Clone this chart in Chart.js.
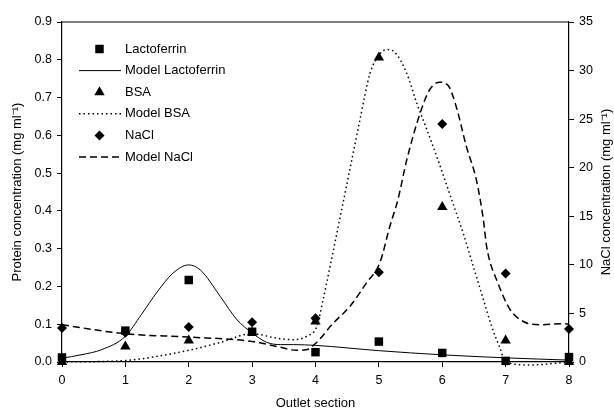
<!DOCTYPE html>
<html>
<head>
<meta charset="utf-8">
<script src="https://cdn.jsdelivr.net/npm/chart.js@4/dist/chart.umd.min.js"></script>
<style>
  html, body { margin: 0; padding: 0; background: #fff; }
  #wrap { width: 614px; height: 411px; }
</style>
</head>
<body>
<div id="wrap"><canvas id="myChart" width="614" height="411"></canvas></div>
<script>
// measured values, one per outlet section
var sections = [0, 1, 2, 3, 4, 5, 6, 7, 8];
var lactoferrin = [0.012, 0.083, 0.217, 0.080, 0.026, 0.054, 0.024, 0.003, 0.013];
var bsa = [0.0, 0.041, 0.057, 0.078, 0.107, 0.806, 0.410, 0.057, 0.0];
var nacl = [3.5, 3.0, 3.6, 4.1, 4.5, 9.25, 24.5, 9.1, 3.4];   // right axis

// model curves
var modelLfX = [0, 0.3, 0.63, 1, 1.25, 1.5, 1.75, 2, 2.18, 2.5, 2.76, 3, 3.23, 3.45, 3.65, 4, 5, 6, 7, 8];
var modelLfY = [0.010, 0.019, 0.033, 0.068, 0.125, 0.185, 0.235, 0.257, 0.244, 0.173, 0.112, 0.077, 0.052, 0.046, 0.046, 0.044, 0.030, 0.019, 0.011, 0.005];

var modelBsaX = [0, 1, 2, 2.5, 3, 3.39, 3.65, 3.86, 4.02, 4.12, 4.23, 4.38, 4.54, 4.7, 4.86, 5.02, 5.12, 5.25, 5.44, 5.6, 5.76, 5.97, 6.15, 6.33, 6.49, 6.65, 6.78, 6.91, 7.0, 7.4, 7.8, 8];
var modelBsaY = [0.0, 0.004, 0.031, 0.052, 0.075, 0.063, 0.059, 0.068, 0.094, 0.165, 0.253, 0.376, 0.508, 0.640, 0.764, 0.816, 0.827, 0.820, 0.764, 0.684, 0.614, 0.517, 0.429, 0.341, 0.253, 0.165, 0.094, 0.037, 0.0, -0.008, -0.003, 0.0];

var modelNaclX = [0, 1, 2, 3, 3.39, 3.7, 3.85, 4.0, 4.28, 4.54, 4.8, 5.02, 5.17, 5.3, 5.44, 5.65, 5.8, 5.96, 6.09, 6.22, 6.38, 6.54, 6.65, 6.7, 6.88, 7.07, 7.28, 7.54, 7.9, 8];
var modelNaclY = [3.83, 2.9, 2.57, 2.12, 1.6, 1.2, 1.25, 1.9, 4.0, 5.7, 8.1, 10.3, 13.9, 16.7, 20.8, 25.6, 28.0, 28.8, 28.5, 26.3, 22.2, 18.7, 14.6, 11.9, 8.1, 5.4, 4.17, 3.83, 3.94, 3.9];

function pts(xs, ys) {
  return xs.map(function (x, i) { return { x: x, y: ys[i] }; });
}

Chart.defaults.font.family = "'Liberation Sans', Arial, sans-serif";
Chart.defaults.color = '#000';

// legend drawn inside the plot, top left, like the original
var insideLegend = {
  id: 'insideLegend',
  afterDatasetsDraw: function (chart) {
    var ctx = chart.ctx;
    var top = 49, step = 21.6;
    ctx.save();
    ctx.font = "13px 'Liberation Sans', Arial, sans-serif";
    ctx.textBaseline = 'middle';
    chart.data.datasets.forEach(function (ds, i) {
      var y = top + i * step;
      ctx.fillStyle = '#000';
      ctx.strokeStyle = '#000';
      if (ds.showLine) {
        ctx.lineWidth = ds.borderWidth;
        ctx.setLineDash(ds.borderDash || []);
        ctx.beginPath();
        ctx.moveTo(79, y);
        ctx.lineTo(121, y);
        ctx.stroke();
        ctx.setLineDash([]);
      } else {
        ctx.beginPath();
        var cx = 99.5, r = ds.pointRadius;
        if (ds.pointStyle === 'rect') {
          var s = r * Math.SQRT1_2;
          ctx.rect(cx - s, y - s, 2 * s, 2 * s);
        } else if (ds.pointStyle === 'triangle') {
          ctx.moveTo(cx, y - r);
          ctx.lineTo(cx + r * 0.866, y + r * 0.5);
          ctx.lineTo(cx - r * 0.866, y + r * 0.5);
          ctx.closePath();
        } else {
          ctx.moveTo(cx, y - r);
          ctx.lineTo(cx + r, y);
          ctx.lineTo(cx, y + r);
          ctx.lineTo(cx - r, y);
          ctx.closePath();
        }
        ctx.fill();
      }
      ctx.fillText(ds.label, 125, y);
    });
    ctx.restore();
  }
};

// top frame line and the right axis title (reads bottom to top)
var frame = {
  id: 'frame',
  afterDraw: function (chart) {
    var ctx = chart.ctx, a = chart.chartArea;
    ctx.save();
    ctx.strokeStyle = '#000';
    ctx.lineWidth = 1.2;
    ctx.beginPath();
    ctx.moveTo(a.left, a.top);
    ctx.lineTo(a.right, a.top);
    ctx.stroke();
    ctx.translate(606, (a.top + a.bottom) / 2);
    ctx.rotate(-Math.PI / 2);
    ctx.font = "13px 'Liberation Sans', Arial, sans-serif";
    ctx.textAlign = 'center';
    ctx.textBaseline = 'middle';
    ctx.fillStyle = '#000';
    ctx.fillText('NaCl concentration (mg ml\u207B\u00B9)', 0, 0);
    ctx.restore();
  }
};

var ctx = document.getElementById('myChart').getContext('2d');

var myChart = new Chart(ctx, {
  type: 'scatter',
  data: {
    datasets: [{
      label: 'Lactoferrin',
      data: pts(sections, lactoferrin),
      pointStyle: 'rect',
      pointRadius: 6,
      backgroundColor: '#000',
      borderColor: '#000',
      borderWidth: 0,
      showLine: false,
      clip: false,
      order: 1
    }, {
      label: 'Model Lactoferrin',
      data: pts(modelLfX, modelLfY),
      showLine: true,
      borderColor: '#000',
      borderWidth: 1,
      pointRadius: 0,
      cubicInterpolationMode: 'monotone',
      order: 6
    }, {
      label: 'BSA',
      data: pts(sections, bsa),
      pointStyle: 'triangle',
      pointRadius: 6,
      backgroundColor: '#000',
      borderColor: '#000',
      borderWidth: 0,
      showLine: false,
      clip: false,
      order: 2
    }, {
      label: 'Model BSA',
      data: pts(modelBsaX, modelBsaY),
      showLine: true,
      borderColor: '#000',
      borderWidth: 1.5,
      borderDash: [1.5, 3],
      pointRadius: 0,
      cubicInterpolationMode: 'monotone',
      clip: { left: 0, top: 0, right: 0, bottom: 6 },
      order: 5
    }, {
      label: 'NaCl',
      yAxisID: 'y1',
      data: pts(sections, nacl),
      pointStyle: 'rectRot',
      pointRadius: 5,
      backgroundColor: '#000',
      borderColor: '#000',
      borderWidth: 0,
      showLine: false,
      clip: false,
      order: 3
    }, {
      label: 'Model NaCl',
      yAxisID: 'y1',
      data: pts(modelNaclX, modelNaclY),
      showLine: true,
      borderColor: '#000',
      borderWidth: 1.5,
      borderDash: [7, 4],
      pointRadius: 0,
      cubicInterpolationMode: 'monotone',
      order: 4
    }]
  },
  options: {
    responsive: false,
    animation: false,
    devicePixelRatio: 1,
    layout: { padding: { top: 22, left: 0, right: 0, bottom: 0 } },
    plugins: {
      legend: { display: false },
      tooltip: { enabled: false }
    },
    scales: {
      x: {
        type: 'linear',
        min: 0,
        max: 8,
        afterFit: function (s) { s.height = 49; },
        ticks: { stepSize: 1, padding: 6, font: { size: 12.5 } },
        grid: { drawOnChartArea: false, tickLength: 5, color: '#000' },
        border: { color: '#000', width: 1.2 },
        title: { display: true, text: 'Outlet section', font: { size: 13 }, padding: { top: 0, bottom: 0 } }
      },
      y: {
        position: 'left',
        min: 0,
        max: 0.9,
        afterFit: function (s) { s.width = 62; },
        ticks: {
          stepSize: 0.1,
          padding: 5,
          font: { size: 12.5 },
          callback: function (v) { return v.toFixed(1); }
        },
        grid: { drawOnChartArea: false, tickLength: 5, color: '#000' },
        border: { color: '#000', width: 1.2 },
        title: { display: true, text: 'Protein concentration (mg ml\u207B\u00B9)', font: { size: 13 }, padding: { top: 10, bottom: 0 } }
      },
      y1: {
        position: 'right',
        min: 0,
        max: 35,
        afterFit: function (s) { s.width = 45; },
        ticks: { stepSize: 5, padding: 5, font: { size: 12.5 } },
        grid: { drawOnChartArea: false, tickLength: 5, color: '#000' },
        border: { color: '#000', width: 1.2 }
      }
    }
  },
  plugins: [insideLegend, frame]
});
</script>
</body>
</html>
